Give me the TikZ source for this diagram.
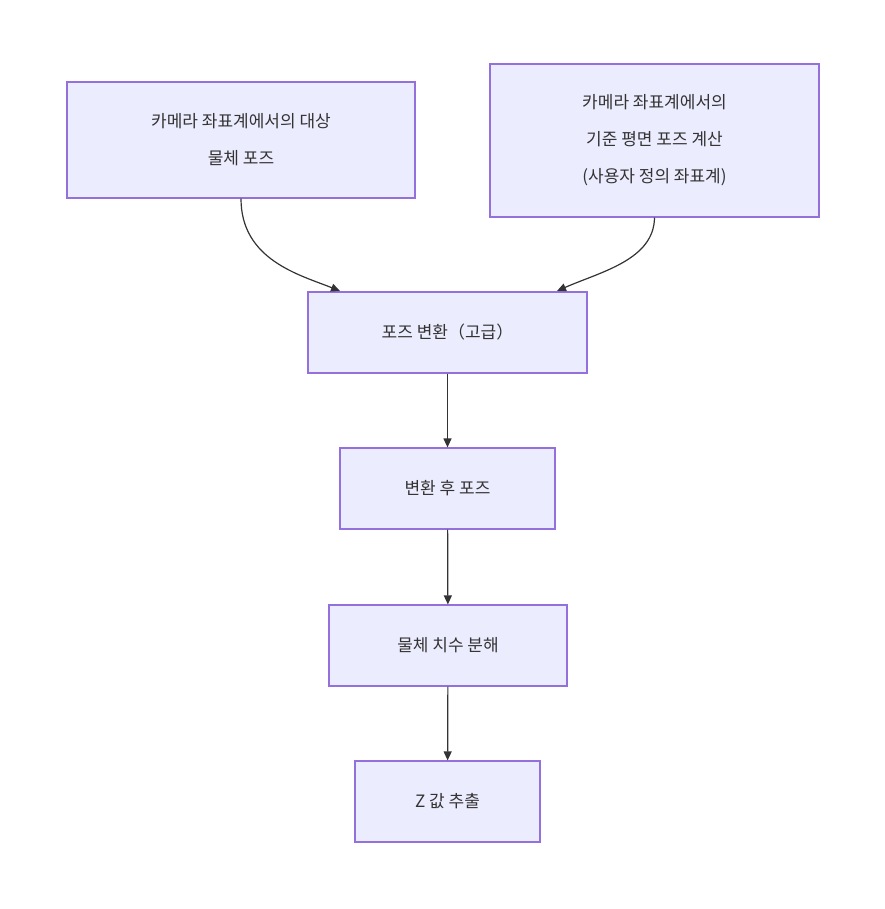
\documentclass[tikz,border=0pt]{standalone}
\usepackage{fontspec}
\setmainfont{Noto Sans CJK KR}
\usetikzlibrary{arrows.meta}
\definecolor{boxfill}{HTML}{ECECFF}
\definecolor{boxline}{HTML}{9370DB}
\definecolor{arrowc}{HTML}{333333}
\tikzset{flowbox/.style={draw=boxline, fill=boxfill, line width=1.2pt,
        align=center, font=\fontsize{17}{37}\selectfont, text=arrowc,
        inner sep=0pt},
    flowarrow/.style={-{Triangle[length=9pt,width=8pt]}, draw=arrowc, line width=1.2pt}}
\begin{document}
\begin{tikzpicture}[x=1pt,y=-1pt]
    \useasboundingbox (0,0) rectangle (884,909);

    %Knoten
    \node[flowbox, minimum width=348pt, minimum height=116pt] (objpose) at (241,140)
        {카메라 좌표계에서의 대상\\물체 포즈};
    \node[flowbox, minimum width=329pt, minimum height=153pt] (refpose) at (654.5,140.5)
        {카메라 좌표계에서의\\기준 평면 포즈 계산\\(사용자 정의 좌표계)};
    \node[flowbox, minimum width=279pt, minimum height=81pt] (transform) at (447.5,332.5)
        {포즈 변환（고급）};
    \node[flowbox, minimum width=215pt, minimum height=81pt] (newpose) at (447.5,488.5)
        {변환 후 포즈};
    \node[flowbox, minimum width=238pt, minimum height=81pt] (decomp) at (448,645.5)
        {물체 치수 분해};
    \node[flowbox, minimum width=185pt, minimum height=81pt] (zval) at (447.5,801.5)
        {Z 값 추출};

    %Pfeile
    \draw[flowarrow] (objpose.south) .. controls (241,260) and (300,275) .. (340,291);
    \draw[flowarrow] (refpose.south) .. controls (654,260) and (600,272) .. (557,291);
    \draw[flowarrow] (transform) -- (newpose);
    \draw[flowarrow] (newpose) -- (decomp);
    \draw[flowarrow] (decomp) -- (zval);

\end{tikzpicture}
\end{document}
